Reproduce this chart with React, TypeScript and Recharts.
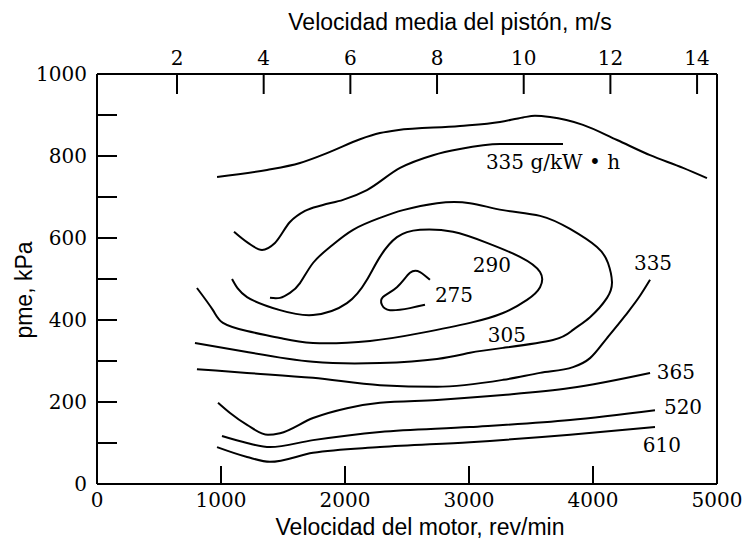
import { LineChart, Line, XAxis, YAxis, ReferenceLine, ReferenceDot } from "recharts";

// engine speed (rev/min) and bmep (kPa)
const RPM_TICKS = [0, 1000, 2000, 3000, 4000, 5000];
const PME_TICKS = [0, 100, 200, 300, 400, 500, 600, 700, 800, 900, 1000];
const PISTON_TICKS = [2, 4, 6, 8, 10, 12, 14];
const PISTON_DOMAIN = [0.154, 14.46];

// contour lines as [rpm, pme] pairs, in drawing order
const fullLoad = [
  [968, 749], [1371, 766], [1637, 783], [1879, 810], [2121, 841], [2282, 856],
  [2419, 863], [2927, 873], [3250, 883], [3435, 894], [3532, 898], [3653, 895],
  [3919, 876], [4194, 839], [4460, 802], [4726, 771], [4919, 746],
];
const bsfc335top = [
  [1105, 615], [1218, 588], [1331, 571], [1435, 588], [1556, 639], [1677, 666],
  [1815, 680], [1984, 693], [2177, 717], [2444, 771], [2710, 802], [2927, 817],
  [3250, 829], [3758, 829],
];
const bsfc275 = [
  [2685, 498], [2605, 517], [2524, 515], [2419, 480], [2306, 456], [2298, 437],
  [2363, 424], [2524, 429], [2645, 437],
];
const bsfc290 = [
  [1089, 500], [1210, 456], [1476, 424], [1742, 412], [2016, 441], [2177, 498],
  [2282, 554], [2419, 602], [2605, 620], [2871, 615], [3145, 588], [3411, 554],
  [3573, 517], [3573, 480], [3468, 449], [3274, 417], [3008, 393], [2605, 368],
  [2202, 349], [1742, 344], [1476, 356], [1210, 373], [1016, 393], [935, 424],
  [806, 478],
];
const bsfc305 = [
  [1395, 454], [1476, 454], [1556, 466], [1637, 490], [1742, 539], [1879, 578],
  [2065, 620], [2282, 649], [2468, 668], [2742, 685], [3008, 685], [3274, 668],
  [3573, 654], [3815, 622], [4032, 578], [4121, 539], [4153, 493], [4113, 454],
  [3976, 407], [3839, 376], [3677, 351], [3274, 332], [3008, 320], [2742, 305],
  [2282, 295], [1742, 298], [1210, 322], [790, 344],
];
const bsfc335 = [
  [806, 280], [1210, 271], [1742, 259], [2282, 241], [2742, 237], [3274, 254],
  [3573, 271], [3839, 285], [3976, 307], [4113, 356], [4258, 410], [4379, 459],
  [4460, 498],
];
const bsfc365 = [
  [976, 198], [1073, 173], [1210, 144], [1379, 120], [1476, 124], [1742, 161],
  [2016, 185], [2282, 198], [2742, 205], [3274, 217], [3815, 234], [4460, 271],
];
const bsfc520 = [
  [1008, 117], [1210, 100], [1395, 90], [1742, 107], [2282, 127], [3008, 139],
  [3815, 156], [4500, 180],
];
const bsfc610 = [
  [968, 90], [1210, 66], [1395, 54], [1742, 76], [2282, 90], [3008, 102],
  [3815, 120], [4500, 139],
];

// open curves run left to right; the loops need a parametric spline
const CONTOURS = [
  { pts: fullLoad, curve: "monotone" },
  { pts: bsfc335top, curve: "monotone" },
  { pts: bsfc275, curve: "natural" },
  { pts: bsfc290, curve: "natural" },
  { pts: bsfc305, curve: "natural" },
  { pts: bsfc335, curve: "monotone" },
  { pts: bsfc365, curve: "monotone" },
  { pts: bsfc520, curve: "monotone" },
  { pts: bsfc610, curve: "monotone" },
];

const LABEL_TEXT = ["335 g/kW \u2022 h", "290", "275", "305", "335", "365", "520", "610"];
const LABEL_RPM = [3677, 3185, 2879, 3306, 4484, 4669, 4726, 4556];
const LABEL_PME = [785, 534, 461, 363, 539, 273, 188, 95];

const SERIF = "'DejaVu Serif', serif";
const SANS = "'Liberation Sans', Arial, sans-serif";
const tickFont = { fill: "#000", fontFamily: SERIF, fontSize: 20 };
const axisStroke = { stroke: "#000", strokeWidth: 2 };

export default function App() {
  return (
    <div style={{ position: "absolute", left: 0, top: 0, width: 742, height: 541, background: "#fff" }}>
      <LineChart width={742} height={541} margin={{ top: 44, right: 25, bottom: 27, left: 37 }}>
        <XAxis
          xAxisId="rpm"
          dataKey="rpm"
          type="number"
          orientation="bottom"
          domain={[0, 5000]}
          allowDataOverflow
          ticks={RPM_TICKS}
          interval={0}
          height={30}
          axisLine={axisStroke}
          tickLine={axisStroke}
          tickSize={-18}
          tickMargin={27}
          tick={tickFont}
        />
        <XAxis
          xAxisId="piston"
          dataKey="ps"
          type="number"
          orientation="top"
          domain={PISTON_DOMAIN}
          allowDataOverflow
          ticks={PISTON_TICKS}
          interval={0}
          height={30}
          axisLine={axisStroke}
          tickLine={axisStroke}
          tickSize={-20}
          tickMargin={29}
          tick={tickFont}
        />
        <YAxis
          yAxisId="pme"
          dataKey="pme"
          type="number"
          domain={[0, 1000]}
          allowDataOverflow
          ticks={PME_TICKS}
          interval={0}
          width={60}
          axisLine={axisStroke}
          tickLine={axisStroke}
          tickSize={-20}
          tickMargin={30}
          tick={tickFont}
          tickFormatter={(v: number) => (v % 200 === 0 ? String(v) : "")}
        />
        <ReferenceLine xAxisId="rpm" yAxisId="pme" x={5000} stroke="#000" strokeWidth={2} />
        {CONTOURS.map((c, i) => (
          <Line
            key={i}
            xAxisId="rpm"
            yAxisId="pme"
            data={c.pts.map(([rpm, pme]) => ({ rpm, pme }))}
            dataKey="pme"
            type={c.curve as any}
            stroke="#000"
            strokeWidth={2}
            dot={false}
            activeDot={false}
            isAnimationActive={false}
          />
        ))}
        {LABEL_TEXT.map((t, i) => (
          <ReferenceDot
            key={t}
            xAxisId="rpm"
            yAxisId="pme"
            x={LABEL_RPM[i]}
            y={LABEL_PME[i]}
            r={0}
            fill="none"
            stroke="none"
            label={{ value: t, position: "center", fill: "#000", fontFamily: SERIF, fontSize: 20 }}
          />
        ))}
        <text x={450} y={30} textAnchor="middle" fontFamily={SANS} fontSize={23} fill="#000">
          Velocidad media del pistón, m/s
        </text>
        <text x={420} y={535} textAnchor="middle" fontFamily={SANS} fontSize={23} fill="#000">
          Velocidad del motor, rev/min
        </text>
        <text x={32} y={290} transform="rotate(-90 32 290)" textAnchor="middle" fontFamily={SANS} fontSize={23} fill="#000">
          pme, kPa
        </text>
      </LineChart>
    </div>
  );
}
